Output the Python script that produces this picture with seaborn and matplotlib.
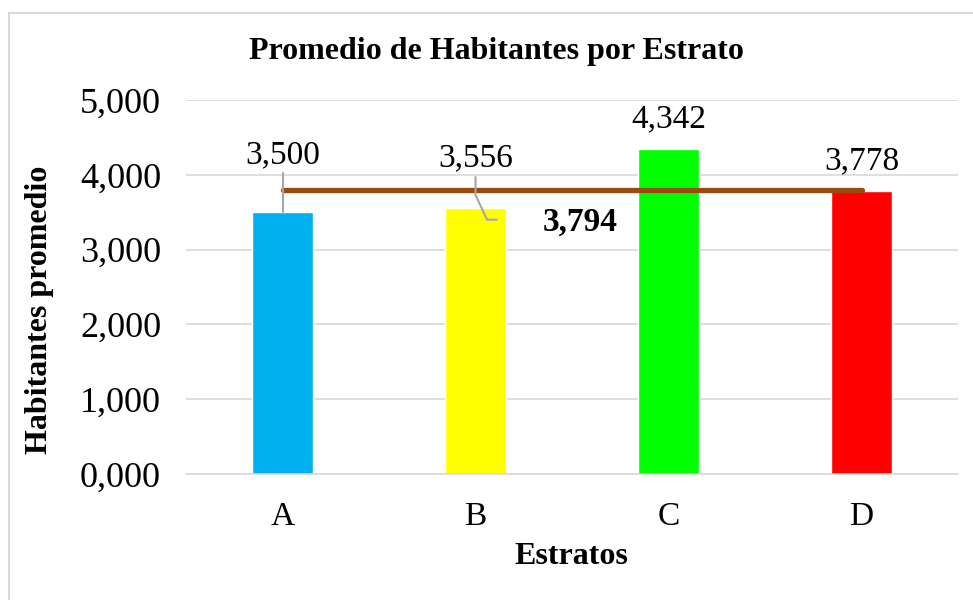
import matplotlib
matplotlib.use("Agg")
import matplotlib.pyplot as plt
import seaborn as sns
import pandas as pd
from matplotlib.patches import Rectangle

categories = ["A", "B", "C", "D"]
values = [3.500, 3.556, 4.342, 3.778]
colors = ["#00B0F0", "#FFFF00", "#00FF00", "#FF0000"]
average = 3.794
yticks = [0, 1, 2, 3, 4, 5]

def fmt(v):
    return f"{v:.3f}".replace(".", ",")

sns.set_theme(style="white")
plt.rcParams["font.family"] = ["Liberation Serif", "DejaVu Serif"]
plt.rcParams["text.color"] = "black"
plt.rcParams["axes.labelcolor"] = "black"

fig = plt.figure(figsize=(9.73, 6.0), dpi=100)
ax = fig.add_axes([186/973, 1-474/600, (958-186)/973, (474-100)/600])

df = pd.DataFrame({"Estrato": categories, "Valor": values})
sns.barplot(data=df, x="Estrato", y="Valor", hue="Estrato", palette=colors,
            width=0.32, legend=False, ax=ax, saturation=1, zorder=2)

ax.set_ylim(0, 5)
ax.set_xlim(-0.5, 3.5)
ax.set_yticks(yticks)
ax.set_yticklabels([fmt(t) for t in yticks])
ax.grid(axis="y", color="#D9D9D9", linewidth=1.2, zorder=0)
ax.set_axisbelow(True)
for s in ["top", "right", "left"]:
    ax.spines[s].set_visible(False)
ax.spines["bottom"].set_color("#D9D9D9")
ax.spines["bottom"].set_linewidth(1.2)
ax.tick_params(axis="both", length=0, colors="black")
ax.tick_params(axis="y", labelsize=26, pad=18)
ax.tick_params(axis="x", labelsize=24, pad=20)

# average line
ax.plot([0, 3], [average, average], color="#9C4A0B", linewidth=3.8,
        solid_capstyle="round", zorder=3)
ax.text(1.545, 3.36, fmt(average), ha="center", va="center",
        fontsize=24, fontweight="bold", color="black", zorder=5)

# data labels with leader lines
label_y = [4.27, 4.23, 4.74, 4.18]
for i, (v, ly) in enumerate(zip(values, label_y)):
    ax.text(i, ly, fmt(v), ha="center", va="center", fontsize=24,
            color="black", zorder=5)
# leader lines
ax.plot([0, 0], [4.02, 3.5], color="#A6A6A6", linewidth=1.5, zorder=4)
ax.plot([1, 1, 1.06, 1.11], [3.97, 3.73, 3.40, 3.40], color="#A6A6A6",
        linewidth=1.5, zorder=4)

ax.set_xlabel("Estratos", fontsize=23, fontweight="bold")
ax.xaxis.set_label_coords((571-186)/772, -(557-474)/374)
ax.xaxis.label.set_va("center")
ax.set_ylabel("Habitantes promedio", fontsize=23, fontweight="bold")
ax.yaxis.set_label_coords(-(186-40)/772, (474-310)/374)
ax.yaxis.label.set_va("center")

fig.text(496/973, 1-51/600, "Promedio de Habitantes por Estrato",
         ha="center", va="center", fontsize=23, fontweight="bold")

fig.patches.append(Rectangle((9/973, -0.05), 1.2, 1-13/600+0.05,
                             transform=fig.transFigure, fill=False,
                             edgecolor="#D9D9D9", linewidth=1.5))

fig.savefig("out.png", dpi=100)
